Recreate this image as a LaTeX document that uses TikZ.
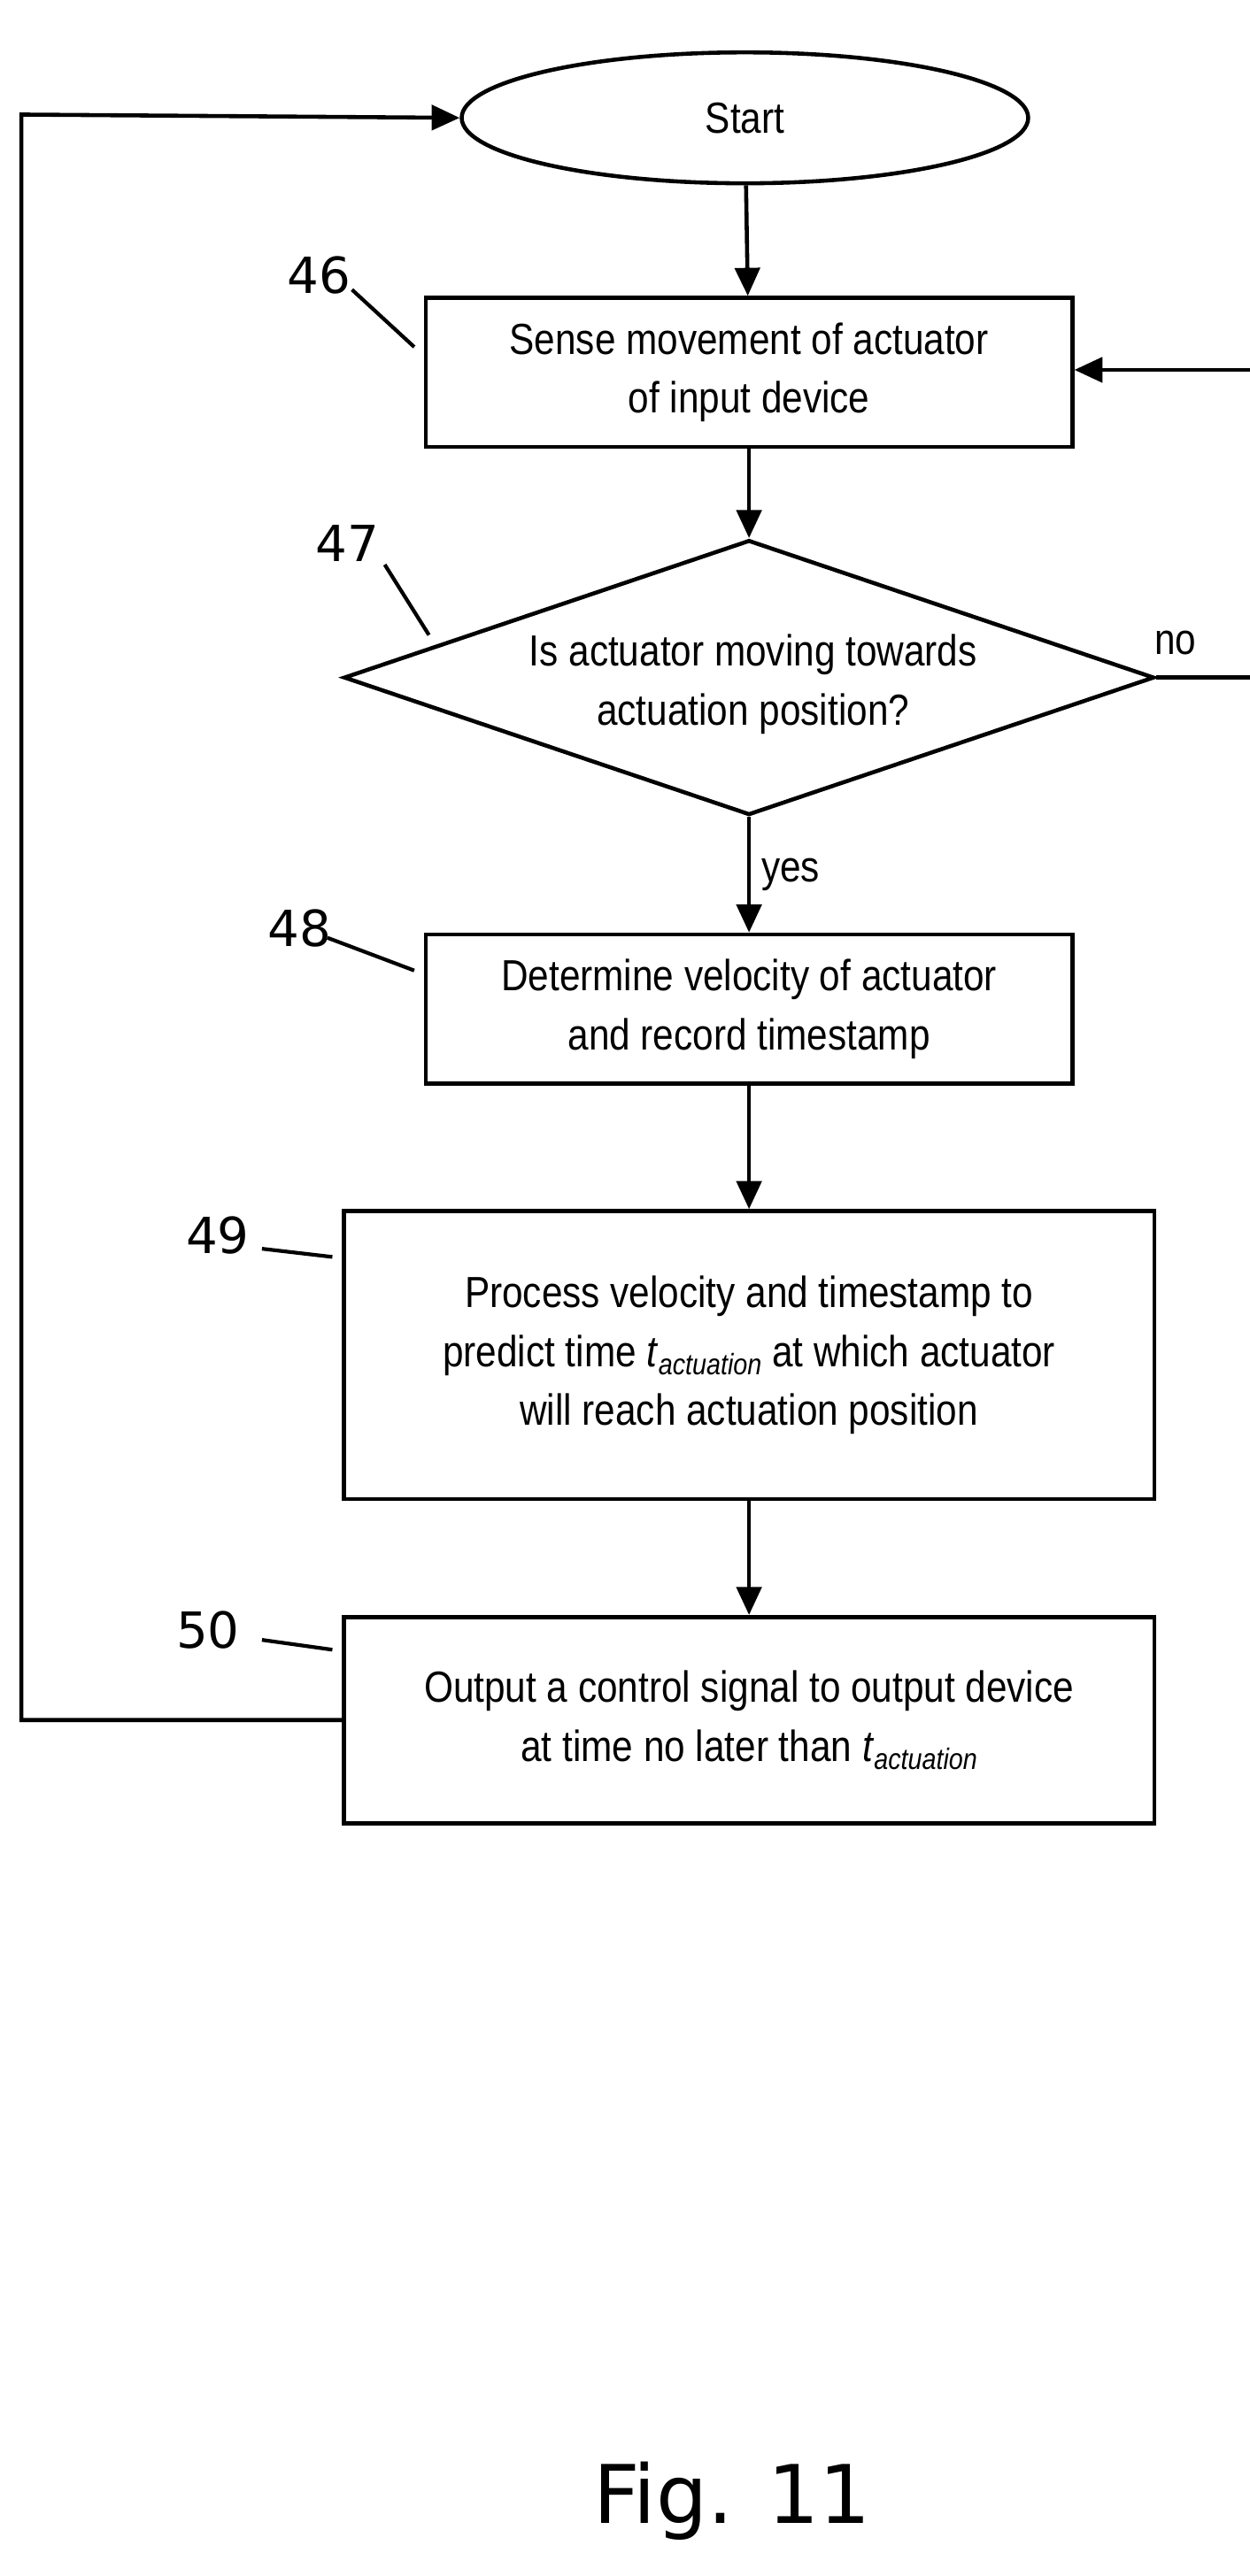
\documentclass[tikz,border=0pt]{standalone}
\usepackage{fontspec}
\setmainfont[FakeStretch=0.86]{Liberation Sans}
\newfontfamily\numfont{DejaVu Sans}
\usetikzlibrary{shapes.geometric,arrows.meta}
\newcommand\tact{\textit{t}\raisebox{-0.35ex}{\fontsize{9.5}{10}\selectfont\itshape actuation}}
\begin{document}
\begin{tikzpicture}[x=0.01849cm,y=-0.01849cm,
  box/.style={draw,line width=1.3pt,font=\fontsize{14}{19}\selectfont,align=center,inner sep=0pt},
  arr/.style={line width=1.3pt,-{Triangle[length=9pt,width=8pt]}},
  lead/.style={line width=1.2pt},
  num/.style={font=\numfont\fontsize{16}{18}\selectfont}]
\useasboundingbox (0,0) rectangle (763,1574);
\node[box,ellipse,minimum width=346*0.01849cm,minimum height=80*0.01849cm] (start) at (455,72) {Start};
\node[box,minimum width=395*0.01849cm,minimum height=91*0.01849cm] (b46) at (457.5,227.5) {Sense movement of actuator\\of input device};
\node[box,diamond,minimum width=495*0.01849cm,minimum height=168*0.01849cm,aspect=2.95] (d47) at (457.5,414) {};
\node[font=\fontsize{14}{19}\selectfont,align=center] at (460,418) {Is actuator moving towards\\actuation position?};
\node[box,minimum width=395*0.01849cm,minimum height=91*0.01849cm] (b48) at (457.5,616.5) {Determine velocity of actuator\\and record timestamp};
\node[box,minimum width=495*0.01849cm,minimum height=176*0.01849cm] (b49) at (457.5,828) {Process velocity and timestamp to\\predict time \tact{} at which actuator\\will reach actuation position};
\node[box,minimum width=495*0.01849cm,minimum height=126*0.01849cm] (b50) at (457.5,1051) {Output a control signal to output device\\at time no later than \tact};
\draw[arr] (start) -- (b46);
\draw[arr] (b46) -- (d47);
\draw[arr] (d47) -- node[right,font=\fontsize{14}{19}\selectfont]{yes} (b48);
\draw[arr] (b48) -- (b49);
\draw[arr] (b49) -- (b50);
\coordinate (r1) at (775,414); \coordinate (r2) at (775,226);
\draw[arr] (d47.east) -- (r1) -- (r2) -- (b46.east |- r2);
\node[font=\fontsize{14}{19}\selectfont] (no) at (718,393) {no};
\coordinate (l1) at (13,1051); \coordinate (l2) at (13,70);
\draw[arr] (b50.west) -- (l1) -- (l2) -- (start.west);
\node[num] (n46) at (195,168) {46}; \draw[lead] (215,177) -- (253,212);
\node[num] (n47) at (212,332) {47}; \draw[lead] (235,345) -- (262,388);
\node[num] (n48) at (183,567) {48}; \draw[lead] (200,573) -- (253,593);
\node[num] (n49) at (133,755) {49}; \draw[lead] (160,763) -- (203,768);
\node[num] (n50) at (127,996) {50}; \draw[lead] (160,1002) -- (203,1008);
\node[font=\numfont\fontsize{26}{30}\selectfont] (fig) at (447,1528) {Fig. 11};
\end{tikzpicture}
\end{document}
